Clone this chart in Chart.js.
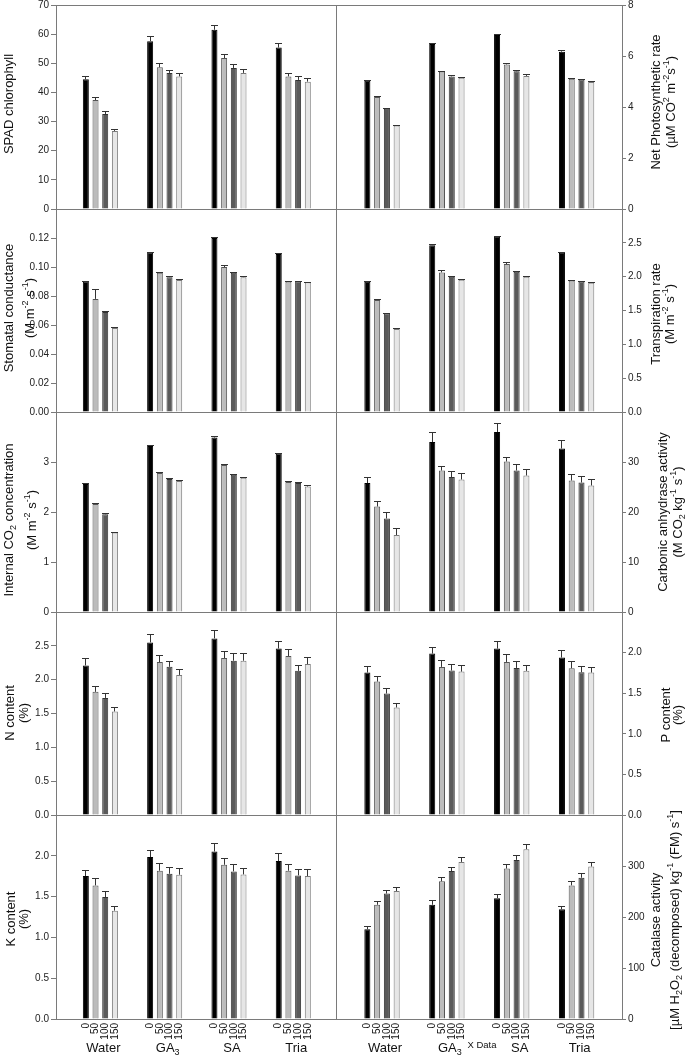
<!DOCTYPE html>
<html><head><meta charset="utf-8">
<script src="https://cdn.jsdelivr.net/npm/chart.js@4.4.1/dist/chart.umd.min.js"></script>
<style>
html,body{margin:0;padding:0;background:#fff;}
#wrap{position:relative;width:685px;height:1058px;overflow:hidden;background:#fff;}
#wrap canvas{position:absolute;}
</style></head>
<body><div id="wrap"></div>
<script>
// ---------- data ----------
const categories = ['Water', 'GA3', 'SA', 'Tria'];
const doses = ['0', '50', '100', '150'];

// rows: dose 0, 50, 100, 150 ; columns: Water, GA3, SA, Tria
const spadMean = [[44.5, 57.6, 61.5, 55.4], [37.4, 48.6, 51.8, 45.5], [32.6, 46.7, 48.4, 44.3], [26.8, 45.5, 46.7, 43.7]];
const spadErr  = [[1.3, 1.6, 1.8, 1.5], [1.1, 1.4, 1.4, 1.1], [0.9, 1.1, 1.4, 1.3], [0.6, 1.1, 1.3, 1.1]];

const photoMean = [[5.03, 6.47, 6.82, 6.17], [4.39, 5.39, 5.67, 5.11], [3.93, 5.20, 5.40, 5.08], [3.27, 5.15, 5.22, 4.98]];
const photoErr  = [[0.04, 0.04, 0.04, 0.05], [0.03, 0.04, 0.04, 0.03], [0.04, 0.04, 0.04, 0.03], [0.03, 0.03, 0.07, 0.03]];

const stomMean = [[0.090, 0.110, 0.120, 0.109], [0.078, 0.096, 0.100, 0.090], [0.069, 0.093, 0.096, 0.090], [0.058, 0.091, 0.093, 0.0895]];
const stomErr  = [[0.0005, 0.0006, 0.0007, 0.0006], [0.007, 0.0006, 0.0013, 0.0005], [0.0004, 0.0006, 0.0005, 0.0005], [0.0005, 0.001, 0.0006, 0.0004]];

const transMean = [[1.925, 2.466, 2.598, 2.353], [1.655, 2.063, 2.186, 1.945], [1.459, 1.999, 2.073, 1.930], [1.228, 1.955, 1.999, 1.911]];
const transErr  = [[0.01, 0.01, 0.01, 0.01], [0.01, 0.03, 0.03, 0.01], [0.01, 0.01, 0.01, 0.01], [0.01, 0.01, 0.01, 0.01]];

const ciMean = [[2.56, 3.32, 3.49, 3.17], [2.16, 2.78, 2.94, 2.60], [1.955, 2.66, 2.745, 2.58], [1.59, 2.62, 2.685, 2.51]];
const ciErr  = [[0.02, 0.03, 0.03, 0.02], [0.02, 0.03, 0.02, 0.03], [0.02, 0.03, 0.02, 0.02], [0.01, 0.02, 0.02, 0.03]];

const caMean = [[25.8, 34.0, 36.0, 32.7], [21.1, 28.3, 30.1, 26.3], [18.7, 27.0, 28.3, 25.9], [15.4, 26.5, 27.3, 25.3]];
const caErr  = [[1.2, 2.0, 1.8, 1.6], [1.1, 0.9, 0.8, 1.4], [1.3, 1.3, 1.4, 1.3], [1.5, 1.3, 1.3, 1.3]];

const nMean = [[2.21, 2.55, 2.61, 2.46], [1.82, 2.26, 2.32, 2.35], [1.73, 2.19, 2.28, 2.13], [1.53, 2.07, 2.28, 2.23]];
const nErr  = [[0.11, 0.12, 0.13, 0.11], [0.09, 0.11, 0.11, 0.11], [0.07, 0.09, 0.11, 0.09], [0.065, 0.09, 0.11, 0.10]];

const pMean = [[1.754, 1.988, 2.049, 1.939], [1.643, 1.824, 1.885, 1.807], [1.496, 1.779, 1.811, 1.758], [1.324, 1.766, 1.775, 1.754]];
const pErr  = [[0.08, 0.086, 0.10, 0.09], [0.074, 0.086, 0.10, 0.086], [0.07, 0.08, 0.08, 0.078], [0.06, 0.078, 0.073, 0.074]];

const kMean = [[1.752, 1.984, 2.053, 1.935], [1.637, 1.817, 1.890, 1.817], [1.495, 1.780, 1.809, 1.760], [1.328, 1.768, 1.772, 1.752]];
const kErr  = [[0.08, 0.09, 0.098, 0.094], [0.086, 0.094, 0.086, 0.077], [0.07, 0.08, 0.086, 0.08], [0.053, 0.078, 0.073, 0.09]];

const catMean = [[176, 224, 237, 215], [224, 270, 295, 262], [246, 290, 312, 277], [251, 308, 333, 299]];
const catErr  = [[6, 9, 8, 7], [8, 8, 8, 8], [6.5, 8, 9, 9], [8, 9, 10, 8.5]];

// ---------- styling / layout ----------
const FONT = "'Liberation Sans', Arial, Helvetica, sans-serif";
const seriesColors = ['#000000', '#bcbcbc', '#5a5a5a', '#e6e6e6'];
const seriesBorders = ['#000000', '#555555', '#333333', '#7a7a7a'];
const lineColor = '#7a7a7a';
const panelEdges = [5, 209, 412, 612, 815, 1019];

const panels = [
  {r:0, c:0, mean:spadMean, err:spadErr, max:70, step:10, dec:0, showMax:true,
   title:[[['SPAD chlorophyll']]], tx:[8], ty:104},
  {r:0, c:1, mean:photoMean, err:photoErr, max:8, step:2, dec:0, showMax:true,
   title:[[['Net Photosynthetic rate']], [['(\u00b5M CO'], ['2','sup'], [' m'], ['-2','sup'], ['s'], ['-1','sup'], [')']]], tx:[655,670], ty:102},
  {r:1, c:0, mean:stomMean, err:stomErr, max:0.14, step:0.02, dec:2,
   title:[[['Stomatal conductance']], [['(M m'], ['-2','sup'], [' s'], ['-1','sup'], [')']]], tx:[8,29], ty:308},
  {r:1, c:1, mean:transMean, err:transErr, max:3, step:0.5, dec:1,
   title:[[['Transpiration rate']], [['(M m'], ['-2','sup'], [' s'], ['-1','sup'], [')']]], tx:[655,669], ty:314},
  {r:2, c:0, mean:ciMean, err:ciErr, max:4, step:1, dec:0,
   title:[[['Internal CO'], ['2','sub'], [' concentration']], [['(M m'], ['-2','sup'], [' s'], ['-1','sup'], [')']]], tx:[8,31], ty:520},
  {r:2, c:1, mean:caMean, err:caErr, max:40, step:10, dec:0,
   title:[[['Carbonic anhydrase activity']], [['(M CO'], ['2','sub'], [' kg'], ['-1','sup'], [' s'], ['-1','sup'], [')']]], tx:[662,677], ty:512},
  {r:3, c:0, mean:nMean, err:nErr, max:3, step:0.5, dec:1,
   title:[[['N content']], [['(%)']]], tx:[9,23], ty:713},
  {r:3, c:1, mean:pMean, err:pErr, max:2.5, step:0.5, dec:1,
   title:[[['P content']], [['(%)']]], tx:[665,677], ty:715},
  {r:4, c:0, mean:kMean, err:kErr, max:2.5, step:0.5, dec:1,
   title:[[['K content']], [['(%)']]], tx:[10,23], ty:919},
  {r:4, c:1, mean:catMean, err:catErr, max:400, step:100, dec:0,
   title:[[['Catalase activity']], [['[\u00b5M H'], ['2','sub'], ['O'], ['2','sub'], [' (decomposed) kg'], ['-1','sup'], [' (FM) s'], ['-1','sup'], [']']]], tx:[655,674], ty:920},
];

function drawRich(ctx, segs, cx, cy, size, rotate, color) {
  ctx.save();
  ctx.translate(cx, cy);
  if (rotate) ctx.rotate(-Math.PI / 2);
  let total = 0;
  const parts = segs.map(([t, k]) => {
    const fs = k ? Math.round(size * 0.72) : size;
    ctx.font = fs + 'px ' + FONT;
    const w = ctx.measureText(t).width;
    total += w;
    return {t, k, fs, w};
  });
  let x = -total / 2;
  ctx.textAlign = 'left';
  ctx.textBaseline = 'alphabetic';
  ctx.fillStyle = color || '#111';
  const base = size * 0.36;
  for (const p of parts) {
    ctx.font = p.fs + 'px ' + FONT;
    const dy = p.k === 'sup' ? -size * 0.42 : (p.k === 'sub' ? size * 0.24 : 0);
    ctx.fillText(p.t, x, base + dy);
    x += p.w;
  }
  ctx.restore();
}

function labelSegs(name) {
  const m = name.match(/^([A-Za-z]+)(\d+)$/);
  return m ? [[m[1]], [m[2], 'sub']] : [[name]];
}

const framePlugin = {
  id: 'frame',
  afterDatasetsDraw(chart) {
    const {ctx, chartArea: a} = chart;
    const o = chart.options.plugins.frame;
    ctx.save();
    ctx.strokeStyle = lineColor;
    ctx.lineWidth = 1;
    ctx.beginPath();
    const b = Math.round(a.bottom) + 0.5;
    ctx.moveTo(a.left, b); ctx.lineTo(a.right + 0.5, b);
    if (o.top) {
      const t = Math.round(a.top) + 0.5;
      ctx.moveTo(a.left, t); ctx.lineTo(a.right + 0.5, t);
    }
    if (o.col === 0) {
      const r = Math.round(a.right) - 0.5;
      ctx.moveTo(r, a.top); ctx.lineTo(r, a.bottom + 1);
    }
    ctx.stroke();
    ctx.restore();
  }
};

const errorPlugin = {
  id: 'errbars',
  afterDatasetsDraw(chart) {
    const {ctx} = chart;
    const ys = chart.scales.y;
    ctx.save();
    ctx.strokeStyle = '#333';
    ctx.lineWidth = 1;
    chart.data.datasets.forEach((ds, d) => {
      const meta = chart.getDatasetMeta(d);
      meta.data.forEach((bar, i) => {
        const e = ds.errors[i];
        if (!e) return;
        const yt = Math.round(ys.getPixelForValue(ds.data[i] + e)) + 0.5;
        const x = Math.round(bar.x - 0.5) + 0.5;
        ctx.beginPath();
        ctx.moveTo(x, bar.y);
        ctx.lineTo(x, yt);
        ctx.moveTo(x - 3.5, yt);
        ctx.lineTo(x + 3.5, yt);
        ctx.stroke();
      });
    });
    ctx.restore();
  }
};

const textPlugin = {
  id: 'texts',
  afterDraw(chart) {
    const {ctx, chartArea: a} = chart;
    const o = chart.options.plugins.texts;
    const p = o.panel;
    p.title.forEach((line, j) => {
      drawRich(ctx, line, p.tx[j] - o.left, p.ty - o.top, 13, true, '#111');
    });
    if (o.last) {
      ctx.save();
      ctx.fillStyle = '#111';
      ctx.font = '10px ' + FONT;
      chart.data.datasets.forEach((ds, d) => {
        const meta = chart.getDatasetMeta(d);
        meta.data.forEach((bar) => {
          ctx.save();
          ctx.translate(bar.x, a.bottom + 4);
          ctx.rotate(-Math.PI / 2);
          ctx.textAlign = 'right';
          ctx.textBaseline = 'middle';
          ctx.fillText(doses[d], 0, 0);
          ctx.restore();
        });
      });
      ctx.restore();
      const xs = chart.scales.x;
      categories.forEach((name, i) => {
        const shift = (p.c === 1 && i === 2) ? 8 : 3;
        drawRich(ctx, labelSegs(name), xs.getPixelForValue(i) + shift, 1047 - o.top, 13, false, '#111');
      });
      if (p.c === 1) {
        ctx.save();
        ctx.fillStyle = '#111';
        ctx.font = '9.5px ' + FONT;
        ctx.textAlign = 'center';
        ctx.textBaseline = 'middle';
        ctx.fillText('X Data', 482 - o.left, 1045 - o.top);
        ctx.restore();
      }
    }
  }
};

const wrap = document.getElementById('wrap');

function makeChart(p) {
  const left = p.c === 0 ? 0 : 330;
  const width = p.c === 0 ? 340 : 355;
  const top = panelEdges[p.r] - 8;
  const last = p.r === panelEdges.length - 2;
  const ph = panelEdges[p.r + 1] - panelEdges[p.r];
  const height = last ? 1058 - top : ph + 16;
  const padBottom = height - 8 - ph;
  const cv = document.createElement('canvas');
  cv.width = width; cv.height = height;
  cv.style.left = left + 'px'; cv.style.top = top + 'px';
  cv.style.width = width + 'px'; cv.style.height = height + 'px';
  wrap.appendChild(cv);

  const datasets = doses.map((d, k) => ({
    label: d,
    data: p.mean[k],
    errors: p.err[k],
    backgroundColor: seriesColors[k],
    borderColor: seriesBorders[k],
    borderWidth: 1,
    borderSkipped: 'start',
    categoryPercentage: 0.6025,
    barPercentage: 0.62
  }));

  const axisW = p.c === 0 ? 56 : 63;
  new Chart(cv, {
    type: 'bar',
    data: {labels: categories.map((_, i) => i), datasets},
    options: {
      responsive: false,
      animation: false,
      devicePixelRatio: 1,
      layout: {padding: {top: 8, bottom: padBottom, left: p.c === 0 ? 0 : 7, right: p.c === 0 ? 3 : 0}},
      plugins: {
        legend: {display: false},
        tooltip: {enabled: false},
        frame: {top: p.r === 0, col: p.c},
        texts: {panel: p, left, top, last}
      },
      scales: {
        x: {
          type: 'linear',
          display: false,
          offset: false,
          min: p.c === 0 ? -0.69 : -0.694,
          max: p.c === 0 ? 3.68 : 3.70,
          afterBuildTicks: (s) => { s.ticks = categories.map((_, i) => ({value: i})); }
        },
        y: {
          position: p.c === 0 ? 'left' : 'right',
          min: 0,
          max: p.max,
          afterFit: (s) => { s.width = axisW; s.paddingTop = 0; s.paddingBottom = 0; },
          ticks: {
            stepSize: p.step,
            padding: 2,
            color: '#222',
            font: {size: 10, family: FONT},
            callback: (v) => (!p.showMax && Math.abs(v - p.max) < 1e-9) ? '' : Number(v).toFixed(p.dec)
          },
          grid: {drawOnChartArea: false, drawTicks: true, tickLength: p.c === 0 ? 5 : 4, color: lineColor},
          border: {color: lineColor}
        }
      }
    },
    plugins: [framePlugin, errorPlugin, textPlugin]
  });
}

panels.forEach(makeChart);
</script>
</body></html>
